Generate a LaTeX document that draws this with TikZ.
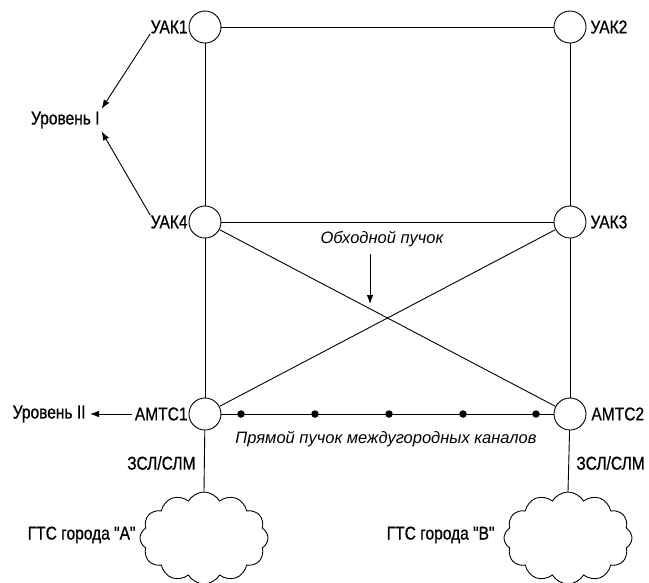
\documentclass[tikz,border=0pt]{standalone}
\usepackage{fontspec}
\setmainfont{Liberation Sans}[FakeStretch=0.84,FakeBold=0.8,Ligatures=TeXOff]
\newfontfamily\itfont{Liberation Sans}
\usetikzlibrary{shapes.symbols,arrows.meta}
\begin{document}
\begin{tikzpicture}[x=1pt,y=-1pt,line width=0.9pt,
  stn/.style={circle,draw,minimum size=32pt,inner sep=0},
  lbl/.style={inner sep=0,font=\fontsize{18.5}{20}\selectfont},
  ital/.style={inner sep=0,font=\itfont\itshape\fontsize{16.5}{18}\selectfont},
  arr/.style={-{Latex[length=9pt,width=6.5pt]}},
  chdot/.style={circle,fill,inner sep=0,minimum size=7.5pt},
  town/.style={cloud,draw,cloud puffs=12,cloud puff arc=120,minimum width=128pt,minimum height=92pt}]
\useasboundingbox (0,0) rectangle (649,582);
% stations
\node[stn] (u1) at (205,27) {};
\node[stn] (u2) at (570,27) {};
\node[stn] (u4) at (205,222) {};
\node[stn] (u3) at (570,222) {};
\node[stn] (a1) at (205,414) {};
\node[stn] (a2) at (570,414) {};
% station labels
\node[lbl,anchor=east] (k1) at (188,27) {УАК1};
\node[lbl,anchor=west] (k2) at (590,27) {УАК2};
\node[lbl,anchor=east] (k4) at (188,222) {УАК4};
\node[lbl,anchor=west] (k3) at (590,222) {УАК3};
\node[lbl,anchor=east] (m1) at (188,414) {АМТС1};
\node[lbl,anchor=west] (m2) at (591,414) {АМТС2};
% level labels
\node[lbl,anchor=east] (lev1) at (100,120) {Уровень I};
\node[lbl,anchor=east] (lev2) at (86,414) {Уровень II};
\draw[arr,shorten >=3pt] (k1.south west) -- (lev1.north east);
\draw[arr,shorten >=3pt] (k4.north west) -- (lev1.south east);
\draw[arr,shorten <=2pt,shorten >=4pt] (m1.west) -- (lev2.east);
% trunk lines
\draw (u1) -- (u2);
\draw (u1) -- (u4);
\draw (u2) -- (u3);
\draw (u4) -- (u3);
\draw (u4) -- (a1);
\draw (u3) -- (a2);
\draw (u4) -- (a2);
\draw (u3) -- (a1);
\draw (a1) -- (a2);
% channel dots
\node[chdot] (d1) at (241,414) {};
\node[chdot] (d2) at (315,414) {};
\node[chdot] (d3) at (389,414) {};
\node[chdot] (d4) at (463,414) {};
\node[chdot] (d5) at (536,414) {};
% italic labels
\node[ital] (ob) at (382,239) {Обходной пучок};
\coordinate (obEnd) at (370,304);
\draw[arr,shorten <=7pt] (ob.south -| obEnd) -- (obEnd);
\node[ital] (pr) at (386,439) {Прямой пучок междугородных каналов};
% local networks
\node[town] (cA) at (204,538) {};
\node[town] (cB) at (568,538) {};
\draw (a1) -- (cA.north);
\draw (a2) -- (cB.north);
\node[lbl,anchor=east] (z1) at (196,463) {ЗСЛ/СЛМ};
\node[lbl,anchor=west] (z2) at (576,463) {ЗСЛ/СЛМ};
\node[lbl,anchor=east] (gA) at (136,535) {ГТС города "А"};
\node[lbl,anchor=east] (gB) at (495,535) {ГТС города "В"};
\end{tikzpicture}
\end{document}
